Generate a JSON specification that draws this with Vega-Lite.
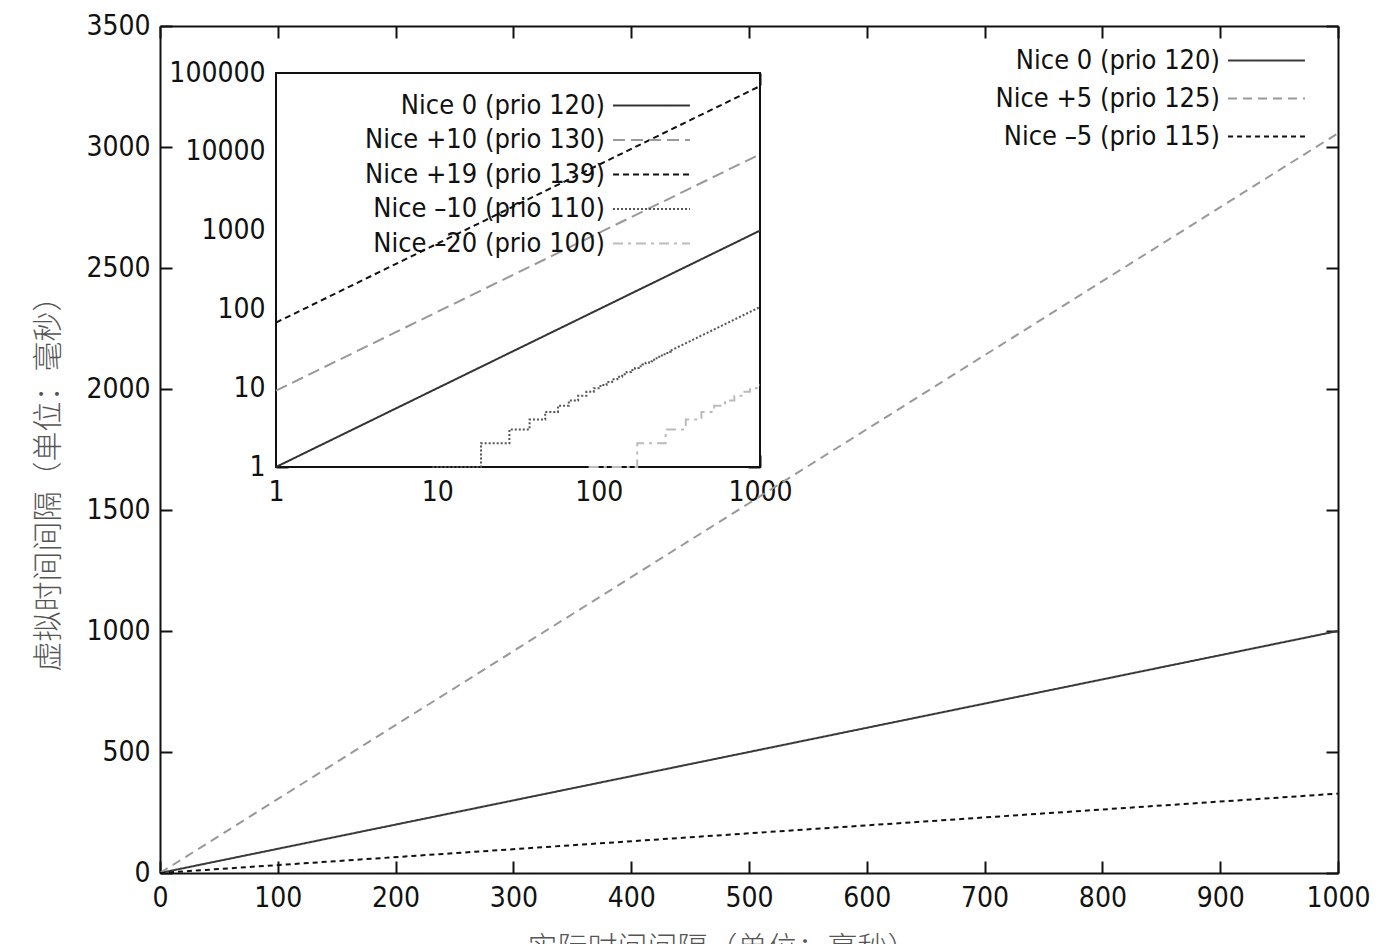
{
  "$schema": "https://vega.github.io/schema/vega-lite/v6.json",
  "width": 1178,
  "height": 847,
  "autosize": {"type": "none"},
  "padding": {"left": 160, "top": 26, "right": 62, "bottom": 71},
  "background": "white",
  "config": {
    "view": {"stroke": null},
    "axis": {
      "grid": false,
      "domainColor": "#111",
      "domainWidth": 2,
      "tickColor": "#111",
      "tickWidth": 2,
      "labelColor": "#111",
      "labelFont": "DejaVu Sans Condensed, Liberation Sans, sans-serif",
      "labelFontSize": 28,
      "labelFlush": false,
      "labelOverlap": false,
      "titleFont": "Noto Sans CJK SC",
      "titleFontSize": 30,
      "titleFontWeight": 300,
      "titleColor": "#555"
    },
    "legend": {
      "labelFont": "DejaVu Sans Condensed, Liberation Sans, sans-serif",
      "labelFontSize": 27,
      "labelColor": "#111",
      "labelLimit": 600,
      "labelAlign": "right",
      "labelOffset": -60,
      "symbolType": "M-4,0H4",
      "symbolSize": 370,
      "symbolStrokeWidth": 2,
      "symbolOffset": 0,
      "padding": 0,
      "orient": "none",
      "title": null
    }
  },
  "datasets": {
    "main": [
      {"series": "Nice 0 (prio 120)", "x": 0, "y": 0},
      {"series": "Nice 0 (prio 120)", "x": 500, "y": 500},
      {"series": "Nice 0 (prio 120)", "x": 1000, "y": 1000},
      {"series": "Nice +5 (prio 125)", "x": 0, "y": 0},
      {"series": "Nice +5 (prio 125)", "x": 500, "y": 1528},
      {"series": "Nice +5 (prio 125)", "x": 1000, "y": 3057},
      {"series": "Nice –5 (prio 115)", "x": 0, "y": 0},
      {"series": "Nice –5 (prio 115)", "x": 500, "y": 164},
      {"series": "Nice –5 (prio 115)", "x": 1000, "y": 328}
    ],
    "mainFrame": [{"x": 0, "x2": 1000, "y": 0, "y2": 3500}],
    "insetFrame": [{"x": 1, "x2": 1000, "y": 1, "y2": 100000}],
    "insetLin": [
      {"series": "Nice 0 (prio 120)", "x": 1, "y": 1},
      {"series": "Nice 0 (prio 120)", "x": 10, "y": 10},
      {"series": "Nice 0 (prio 120)", "x": 100, "y": 100},
      {"series": "Nice 0 (prio 120)", "x": 1000, "y": 1000},
      {"series": "Nice +10 (prio 130)", "x": 1, "y": 9.3},
      {"series": "Nice +10 (prio 130)", "x": 10, "y": 93},
      {"series": "Nice +10 (prio 130)", "x": 100, "y": 931},
      {"series": "Nice +10 (prio 130)", "x": 1000, "y": 9309},
      {"series": "Nice +19 (prio 139)", "x": 1, "y": 68},
      {"series": "Nice +19 (prio 139)", "x": 10, "y": 683},
      {"series": "Nice +19 (prio 139)", "x": 100, "y": 6827},
      {"series": "Nice +19 (prio 139)", "x": 1000, "y": 68267},
      {"series": "Nice –10 (prio 110)", "x": 279.7, "y": 30},
      {"series": "Nice –10 (prio 110)", "x": 400, "y": 42.9},
      {"series": "Nice –10 (prio 110)", "x": 600, "y": 64.3},
      {"series": "Nice –10 (prio 110)", "x": 800, "y": 85.8},
      {"series": "Nice –10 (prio 110)", "x": 1000, "y": 107.2}
    ],
    "insetStep": [
      {"series": "Nice –10 (prio 110)", "x": 9.32, "y": 1},
      {"series": "Nice –10 (prio 110)", "x": 18.65, "y": 2},
      {"series": "Nice –10 (prio 110)", "x": 27.97, "y": 3},
      {"series": "Nice –10 (prio 110)", "x": 37.3, "y": 4},
      {"series": "Nice –10 (prio 110)", "x": 46.62, "y": 5},
      {"series": "Nice –10 (prio 110)", "x": 55.95, "y": 6},
      {"series": "Nice –10 (prio 110)", "x": 65.27, "y": 7},
      {"series": "Nice –10 (prio 110)", "x": 74.59, "y": 8},
      {"series": "Nice –10 (prio 110)", "x": 83.92, "y": 9},
      {"series": "Nice –10 (prio 110)", "x": 93.24, "y": 10},
      {"series": "Nice –10 (prio 110)", "x": 102.57, "y": 11},
      {"series": "Nice –10 (prio 110)", "x": 111.89, "y": 12},
      {"series": "Nice –10 (prio 110)", "x": 121.21, "y": 13},
      {"series": "Nice –10 (prio 110)", "x": 130.54, "y": 14},
      {"series": "Nice –10 (prio 110)", "x": 139.86, "y": 15},
      {"series": "Nice –10 (prio 110)", "x": 149.19, "y": 16},
      {"series": "Nice –10 (prio 110)", "x": 158.51, "y": 17},
      {"series": "Nice –10 (prio 110)", "x": 167.84, "y": 18},
      {"series": "Nice –10 (prio 110)", "x": 177.16, "y": 19},
      {"series": "Nice –10 (prio 110)", "x": 186.48, "y": 20},
      {"series": "Nice –10 (prio 110)", "x": 195.81, "y": 21},
      {"series": "Nice –10 (prio 110)", "x": 205.13, "y": 22},
      {"series": "Nice –10 (prio 110)", "x": 214.46, "y": 23},
      {"series": "Nice –10 (prio 110)", "x": 223.78, "y": 24},
      {"series": "Nice –10 (prio 110)", "x": 233.11, "y": 25},
      {"series": "Nice –10 (prio 110)", "x": 242.43, "y": 26},
      {"series": "Nice –10 (prio 110)", "x": 251.75, "y": 27},
      {"series": "Nice –10 (prio 110)", "x": 261.08, "y": 28},
      {"series": "Nice –10 (prio 110)", "x": 270.4, "y": 29},
      {"series": "Nice –10 (prio 110)", "x": 279.7, "y": 30},
      {"series": "Nice –20 (prio 100)", "x": 86.7, "y": 1},
      {"series": "Nice –20 (prio 100)", "x": 173.4, "y": 2},
      {"series": "Nice –20 (prio 100)", "x": 260, "y": 3},
      {"series": "Nice –20 (prio 100)", "x": 346.7, "y": 4},
      {"series": "Nice –20 (prio 100)", "x": 433.4, "y": 5},
      {"series": "Nice –20 (prio 100)", "x": 520, "y": 6},
      {"series": "Nice –20 (prio 100)", "x": 606.8, "y": 7},
      {"series": "Nice –20 (prio 100)", "x": 693.4, "y": 8},
      {"series": "Nice –20 (prio 100)", "x": 780, "y": 9},
      {"series": "Nice –20 (prio 100)", "x": 866.8, "y": 10},
      {"series": "Nice –20 (prio 100)", "x": 953.5, "y": 11},
      {"series": "Nice –20 (prio 100)", "x": 1000, "y": 11}
    ]
  },
  "layer": [
    {
      "data": {"name": "mainFrame"},
      "mark": {"type": "rect", "fill": "transparent", "stroke": null},
      "encoding": {
        "x": {"field": "x", "type": "quantitative", "scale": {"domain": [0, 1000], "nice": false},
          "axis": {"orient": "top", "values": [0,100,200,300,400,500,600,700,800,900,1000], "labels": false, "title": null, "tickSize": -12}},
        "x2": {"field": "x2"},
        "y": {"field": "y", "type": "quantitative", "scale": {"domain": [0, 3500], "nice": false},
          "axis": {"orient": "right", "values": [0,500,1000,1500,2000,2500,3000,3500], "labels": false, "title": null, "tickSize": -12}},
        "y2": {"field": "y2"}
      }
    },
    {
      "data": {"name": "main"},
      "mark": {"type": "line", "strokeWidth": 2},
      "encoding": {
        "x": {"field": "x", "type": "quantitative", "scale": {"domain": [0, 1000], "nice": false},
          "axis": {"orient": "bottom", "values": [0,100,200,300,400,500,600,700,800,900,1000], "format": "d", "tickSize": -12, "labelPadding": 23,
            "title": "实际时间间隔（单位：毫秒）", "titlePadding": 21, "titleX": 562}},
        "y": {"field": "y", "type": "quantitative", "scale": {"domain": [0, 3500], "nice": false},
          "axis": {"orient": "left", "values": [0,500,1000,1500,2000,2500,3000,3500], "format": "d", "tickSize": -12, "labelPadding": 22,
            "title": "虚拟时间间隔（单位：毫秒）", "titlePadding": 22, "titleY": 450}},
        "stroke": {"field": "series", "type": "nominal",
          "scale": {"domain": ["Nice 0 (prio 120)", "Nice +5 (prio 125)", "Nice –5 (prio 115)"], "range": ["#3a3a3a", "#999999", "#111111"]},
          "legend": {"legendX": 1093, "legendY": 21, "rowPadding": 10}},
        "strokeDash": {"field": "series", "type": "nominal",
          "scale": {"domain": ["Nice 0 (prio 120)", "Nice +5 (prio 125)", "Nice –5 (prio 115)"], "range": [[1, 0], [9, 6], [5, 4]]},
          "legend": {"legendX": 1093, "legendY": 21, "rowPadding": 10}}
      }
    },
    {
      "data": {"name": "insetFrame"},
      "mark": {"type": "rect", "fill": "white", "stroke": "#111", "strokeWidth": 2},
      "encoding": {
        "x": {"field": "x", "type": "quantitative", "scale": {"type": "log", "domain": [1, 1000], "range": [116, 600], "nice": false},
          "axis": {"orient": "top", "offset": -47, "domain": false, "labels": false, "title": null,
            "values": [1,2,3,4,5,6,7,8,9,10,20,30,40,50,60,70,80,90,100,200,300,400,500,600,700,800,900,1000],
            "tickSize": {"condition": {"test": "indexof([1,10,100,1000,10000,100000], datum.value) >= 0", "value": -12}, "value": -7}}},
        "x2": {"field": "x2"},
        "y": {"field": "y", "type": "quantitative", "scale": {"type": "log", "domain": [1, 100000], "range": [441, 47], "nice": false},
          "axis": {"orient": "right", "offset": -578, "domain": false, "labels": false, "title": null,
            "values": [1,2,5,10,20,50,100,200,500,1000,2000,5000,10000,20000,50000,100000],
            "tickSize": {"condition": {"test": "indexof([1,10,100,1000,10000,100000], datum.value) >= 0", "value": -12}, "value": -7}}},
        "y2": {"field": "y2"}
      }
    },
    {
      "encoding": {
        "x": {"field": "x", "type": "quantitative", "scale": {"type": "log", "domain": [1, 1000], "range": [116, 600], "nice": false},
          "axis": {"orient": "bottom", "offset": -406, "domain": false, "title": null, "labelPadding": 23,
            "values": [1,2,3,4,5,6,7,8,9,10,20,30,40,50,60,70,80,90,100,200,300,400,500,600,700,800,900,1000],
            "labelExpr": "indexof([1,10,100,1000,10000,100000], datum.value) >= 0 ? '' + datum.value : ''",
            "tickSize": {"condition": {"test": "indexof([1,10,100,1000,10000,100000], datum.value) >= 0", "value": -12}, "value": -7}}},
        "y": {"field": "y", "type": "quantitative", "scale": {"type": "log", "domain": [1, 100000], "range": [441, 47], "nice": false},
          "axis": {"orient": "left", "offset": -116, "domain": false, "title": null, "labelPadding": 23,
            "values": [1,2,5,10,20,50,100,200,500,1000,2000,5000,10000,20000,50000,100000],
            "labelExpr": "indexof([1,10,100,1000,10000,100000], datum.value) >= 0 ? '' + datum.value : ''",
            "tickSize": {"condition": {"test": "indexof([1,10,100,1000,10000,100000], datum.value) >= 0", "value": -12}, "value": -7}}},
        "stroke": {"field": "series", "type": "nominal",
          "scale": {"domain": ["Nice 0 (prio 120)", "Nice +10 (prio 130)", "Nice +19 (prio 139)", "Nice –10 (prio 110)", "Nice –20 (prio 100)"],
            "range": ["#333333", "#999999", "#111111", "#555555", "#bbbbbb"]},
          "legend": {"legendX": 478, "legendY": 66, "rowPadding": 6.5}},
        "strokeDash": {"field": "series", "type": "nominal",
          "scale": {"domain": ["Nice 0 (prio 120)", "Nice +10 (prio 130)", "Nice +19 (prio 139)", "Nice –10 (prio 110)", "Nice –20 (prio 100)"],
            "range": [[1, 0], [12, 6], [6, 4], [2, 2], [10, 5, 3, 5]]},
          "legend": {"legendX": 478, "legendY": 66, "rowPadding": 6.5}}
      },
      "layer": [
        {"data": {"name": "insetLin"}, "mark": {"type": "line", "strokeWidth": 2}},
        {"data": {"name": "insetStep"}, "mark": {"type": "line", "strokeWidth": 2, "interpolate": "step-after"}}
      ]
    }
  ],
  "resolve": {
    "scale": {"x": "independent", "y": "independent", "stroke": "independent", "strokeDash": "independent"},
    "axis": {"x": "independent", "y": "independent"},
    "legend": {"stroke": "independent", "strokeDash": "independent"}
  }
}
